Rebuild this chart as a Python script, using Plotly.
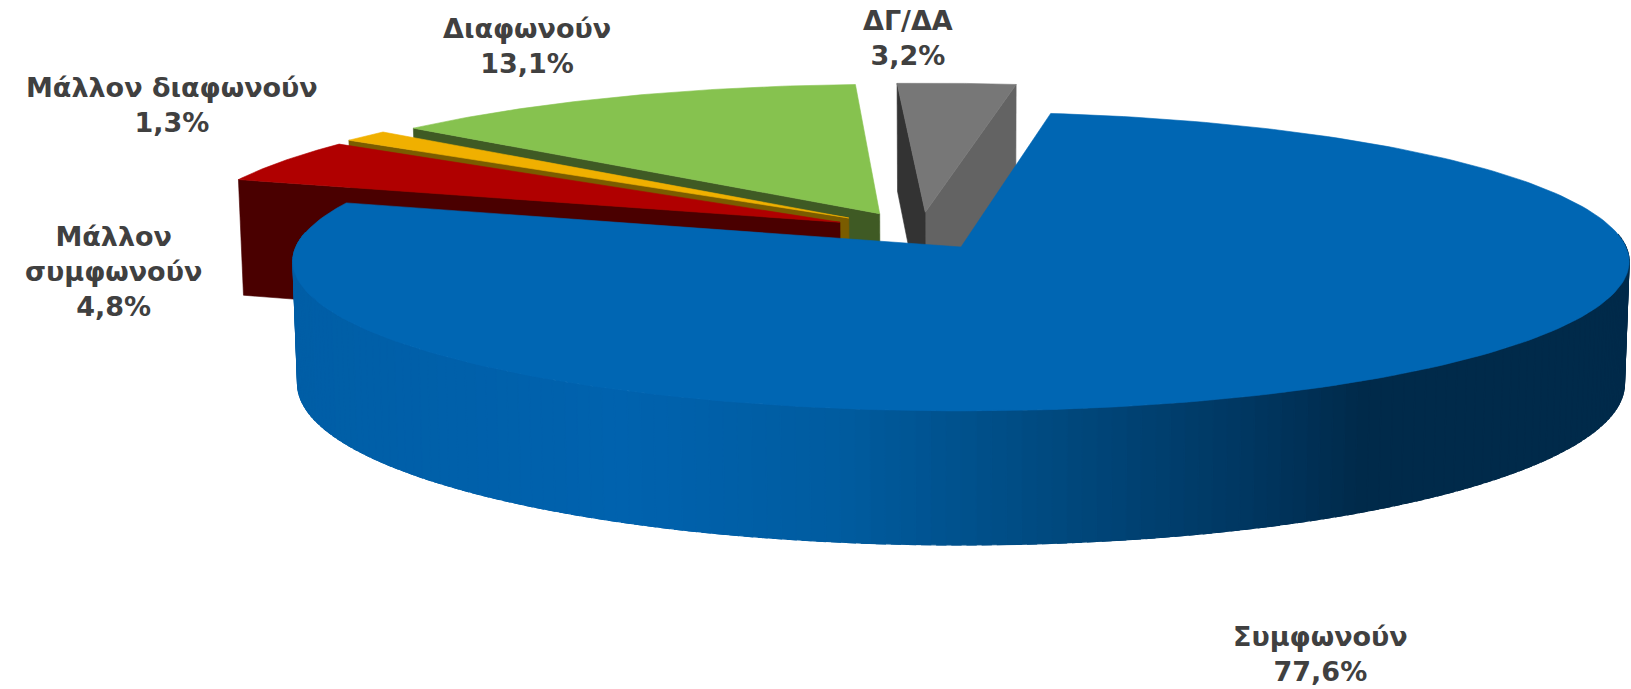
import math
import plotly.graph_objects as go

labels = ["Συμφωνούν", "Μάλλον<br>συμφωνούν", "Μάλλον διαφωνούν", "Διαφωνούν", "ΔΓ/ΔΑ"]
values = [77.6, 4.8, 1.3, 13.1, 3.2]
value_labels = ["77,6%", "4,8%", "1,3%", "13,1%", "3,2%"]

START = 8.5
CX, CY, RX, RY, K, DEPTH = 961, 247, 665, 148, 0.097, 121
TOP = ["#0066b3", "#b00000", "#f0b000", "#86c24f", "#777777"]
CUT = ["#0066b3", "#4a0000", "#7a5c00", "#3f5a24", "#333333"]
EXPLODE = [(0, 0), (-0.185, 0.17), (-0.172, 0.20), (-0.125, 0.23), (-0.055, 0.24)]
LABEL_POS = [(1320, 654), (113, 271), (172, 105), (527, 46), (908, 38)]
SIDE_STOPS = [(291, (0, 94, 166)), (620, (0, 98, 174)), (830, (0, 92, 160)), (1040, (0, 74, 128)),
              (1250, (0, 54, 96)), (1360, (0, 42, 74)), (1631, (0, 42, 74))]


def proj(u, v, low=False):
    p = 1 / (1 + K * v)
    x, y = RX * u * p, -RY * v * p
    if low:
        x *= 0.993
        y += DEPTH * p
    return CX + x, CY + y


def arc(t0, t1, off, n=60, low=False):
    pts = []
    for i in range(n + 1):
        t = math.radians(t0 + (t1 - t0) * i / n)
        pts.append(proj(math.sin(t) + off[0], math.cos(t) + off[1], low))
    return pts


def side_color(x):
    for (x0, c0), (x1, c1) in zip(SIDE_STOPS, SIDE_STOPS[1:]):
        if x <= x1:
            f = max(0, (x - x0) / (x1 - x0))
            return "rgb(%d,%d,%d)" % tuple(round(a + (b - a) * f) for a, b in zip(c0, c1))
    return "rgb(0,42,74)"


fig = go.Figure()


def poly(pts, color, width=0.6):
    xs, ys = zip(*pts)
    fig.add_trace(go.Scatter(x=list(xs) + [xs[0]], y=list(ys) + [ys[0]], mode="lines", fill="toself",
                             fillcolor=color, line=dict(color=color, width=width),
                             hoverinfo="skip", showlegend=False))


angles = []
a = START
for val in values:
    angles.append((a, a + val / sum(values) * 360))
    a = angles[-1][1]

# exploded slices, farthest first
for i in [4, 3, 2, 1]:
    t0, t1 = angles[i]
    off = EXPLODE[i]
    apex, apex_low = proj(*off), proj(*off, low=True)
    top = arc(t0, t1, off)
    low = arc(t0, t1, off, low=True)
    if i == 4:  # both cut faces of this slice face the viewer
        poly([apex, top[-1], low[-1], apex_low], "#636363")
    poly([apex, top[0], low[0], apex_low], CUT[i])
    poly([apex] + top, TOP[i])

# large slice: shaded rim, then top
t0, t1 = angles[0]
rim_steps = 160
for j in range(rim_steps):
    a0 = 85 + (275 - 85) * j / rim_steps
    a1 = 85 + (275 - 85) * (j + 1.6) / rim_steps
    up = arc(a0, a1, (0, 0), n=2)
    dn = arc(a0, a1, (0, 0), n=2, low=True)
    poly(up + dn[::-1], side_color((up[0][0] + up[-1][0]) / 2), width=1.2)
poly([proj(0, 0)] + arc(t0, t1, (0, 0), n=240), TOP[0])

for lab, val, (x, y) in zip(labels, value_labels, LABEL_POS):
    fig.add_annotation(x=x, y=y, text=f"{lab}<br>{val}", showarrow=False, align="center",
                       xanchor="center", yanchor="middle",
                       font=dict(family="DejaVu Sans", size=27, color="#404040", weight="bold"))

fig.update_layout(width=1631, height=689, margin=dict(l=0, r=0, t=0, b=0), plot_bgcolor="white",
                  paper_bgcolor="white", showlegend=False, hovermode=False,
                  xaxis=dict(visible=False, range=[0, 1631], fixedrange=True),
                  yaxis=dict(visible=False, range=[689, 0], fixedrange=True))
fig.write_html("out.html", config={"displayModeBar": False},
               post_script="document.body.style.margin='0';document.body.style.overflow='hidden';")
